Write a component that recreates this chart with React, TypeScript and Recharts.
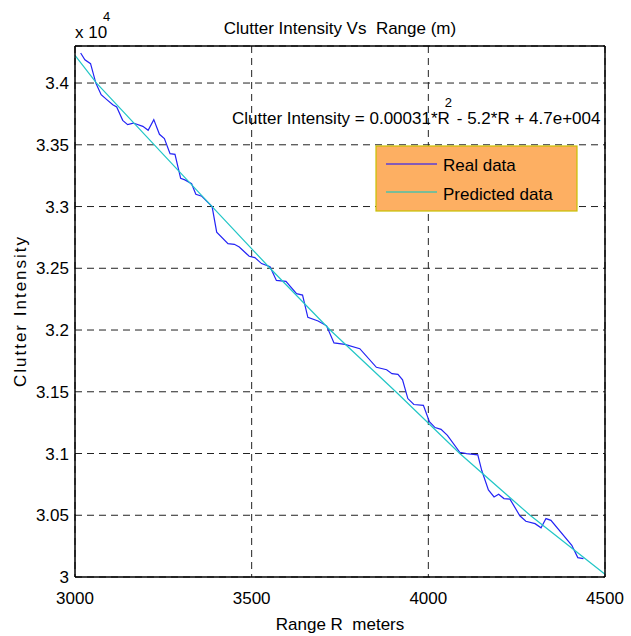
import { LineChart, Line, XAxis, YAxis, CartesianGrid } from "recharts";

// Range (m) and clutter intensity
const realRange = [
  3016, 3028, 3044, 3059, 3074, 3090, 3107, 3118, 3135, 3149, 3165, 3192, 3207, 3223, 3239, 3253,
  3269, 3283, 3299, 3311, 3330, 3342, 3359, 3388, 3401, 3433, 3451, 3465, 3493, 3509, 3528, 3552,
  3570, 3597, 3627, 3644, 3659, 3688, 3712, 3733, 3764, 3806, 3853, 3882, 3897, 3914, 3927, 3942,
  3959, 3986, 4003, 4019, 4036, 4054, 4089, 4108, 4140, 4151, 4170, 4186, 4199, 4214, 4231, 4259,
  4276, 4302, 4319, 4333, 4347, 4406, 4423, 4439,
];
const realIntensity = [
  34243, 34189, 34157, 34000, 33906, 33866, 33825, 33806, 33698, 33663, 33676, 33649, 33617, 33704, 33585, 33550,
  33428, 33423, 33228, 33216, 33185, 33099, 33083, 33000, 32793, 32700, 32694, 32672, 32597, 32586, 32538, 32512,
  32402, 32394, 32295, 32283, 32103, 32073, 32034, 31896, 31884, 31849, 31698, 31678, 31647, 31641, 31597, 31445,
  31397, 31390, 31257, 31210, 31196, 31147, 31010, 30999, 30989, 30864, 30705, 30648, 30670, 30635, 30631, 30496,
  30451, 30432, 30398, 30473, 30459, 30257, 30157, 30149,
];

const predRange = [3000, 3061, 3388, 3552, 3722, 3908, 4089, 4288, 4500];
const predIntensity = [34224, 34000, 33000, 32500, 32000, 31500, 31000, 30500, 30022];

const xTicks = [3000, 3500, 4000, 4500];
const yTicks = [30000, 30500, 31000, 31500, 32000, 32500, 33000, 33500, 34000];

const realData = realRange.map((x, i) => ({ x, y: realIntensity[i] }));
const predData = predRange.map((x, i) => ({ x, y: predIntensity[i] }));

const FONT = "'Liberation Sans', Arial, sans-serif";
const hidden = () => <g />;

export default function App() {
  return (
    <div style={{ position: "absolute", left: 0, top: 0, width: 631, height: 636, background: "#fff", fontFamily: FONT }}>
      <LineChart width={631} height={636} margin={{ top: 46, right: 26, bottom: 0, left: 0 }}>
        <CartesianGrid stroke="#222" strokeDasharray="7 5" />
        <XAxis
          type="number"
          dataKey="x"
          domain={[3000, 4500]}
          ticks={xTicks}
          height={59}
          tickLine={false}
          tickMargin={9}
          axisLine={{ stroke: "#000", strokeWidth: 1.5 }}
          tick={{ fill: "#000", fontSize: 17, fontFamily: FONT }}
        />
        <YAxis
          type="number"
          domain={[30000, 34300]}
          ticks={yTicks}
          width={75}
          allowDataOverflow
          tickLine={false}
          tickMargin={0}
          tickFormatter={(v: number) => String(v / 10000)}
          axisLine={{ stroke: "#000", strokeWidth: 1.5 }}
          tick={{ fill: "#000", fontSize: 17, fontFamily: FONT }}
        />
        {/* inward ticks and the box on top / right */}
        <XAxis xAxisId="top" orientation="top" type="number" domain={[3000, 4500]} ticks={xTicks}
          mirror tick={hidden} tickSize={5} stroke="#000" axisLine={{ stroke: "#000", strokeWidth: 1.5 }} />
        <XAxis xAxisId="bin" orientation="bottom" type="number" domain={[3000, 4500]} ticks={xTicks}
          mirror tick={hidden} tickSize={5} stroke="#000" axisLine={false} />
        <YAxis yAxisId="right" orientation="right" type="number" domain={[30000, 34300]} ticks={yTicks}
          mirror tick={hidden} tickSize={5} stroke="#000" axisLine={{ stroke: "#000", strokeWidth: 1.5 }} />
        <YAxis yAxisId="lin" orientation="left" type="number" domain={[30000, 34300]} ticks={yTicks}
          mirror tick={hidden} tickSize={5} stroke="#000" axisLine={false} />
        <Line data={realData} dataKey="y" stroke="#2323f5" strokeWidth={1.2} dot={false} isAnimationActive={false} />
        <Line data={predData} dataKey="y" stroke="#22c6c6" strokeWidth={1.2} dot={false} isAnimationActive={false} />
      </LineChart>

      <svg width={631} height={636} style={{ position: "absolute", left: 0, top: 0, pointerEvents: "none" }}
        fontFamily={FONT} fill="#000">
        <text x={340} y={34} fontSize={17} textAnchor="middle" style={{ whiteSpace: "pre" }}>
          Clutter Intensity Vs  Range (m)
        </text>
        <text x={75} y={38} fontSize={17}>x 10</text>
        <text x={103} y={21} fontSize={13}>4</text>
        <text x={232} y={124} fontSize={17} style={{ whiteSpace: "pre" }}>
          Clutter Intensity = 0.00031*R
          <tspan dx={-5} dy={-17} fontSize={13}>2</tspan>
          <tspan dy={17}> - 5.2*R + 4.7e+004</tspan>
        </text>
        <rect x={376} y={146} width={201} height={65} fill="#fdaf62" stroke="#c8c000" strokeWidth={1.2} />
        <line x1={386} x2={437} y1={164} y2={164} stroke="#5b3fd6" strokeWidth={1.5} />
        <line x1={386} x2={437} y1={192} y2={192} stroke="#4fc0a8" strokeWidth={1.5} />
        <text x={443} y={171} fontSize={17}>Real data</text>
        <text x={443} y={200} fontSize={17}>Predicted data</text>
        <text x={340} y={630} fontSize={17} textAnchor="middle" style={{ whiteSpace: "pre" }}>
          Range R  meters
        </text>
        <text transform="translate(26,311) rotate(-90)" fontSize={17} textAnchor="middle" letterSpacing={2}>
          Clutter Intensity
        </text>
      </svg>
    </div>
  );
}
